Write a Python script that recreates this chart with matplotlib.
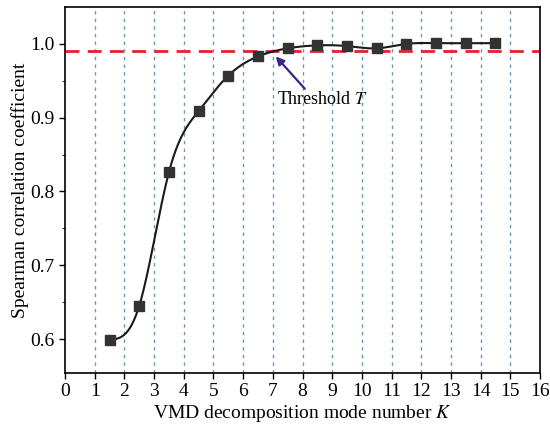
import numpy as np
import matplotlib
matplotlib.use("Agg")
import matplotlib.pyplot as plt

K = [1.5, 2.5, 3.5, 4.5, 5.5, 6.5, 7.5, 8.5, 9.5, 10.5, 11.5, 12.5, 13.5, 14.5]
rho = [0.599, 0.645, 0.826, 0.909, 0.957, 0.983, 0.994, 0.998, 0.997, 0.994, 1.000, 1.001, 1.001, 1.001]
threshold = 0.99
xticks = list(range(0, 17))
yticks = [0.6, 0.7, 0.8, 0.9, 1.0]
grid_x = list(range(1, 16))


def natural_spline(x, y, xs):
    x = np.asarray(x, float); y = np.asarray(y, float)
    n = len(x)
    h = np.diff(x)
    A = np.zeros((n, n)); b = np.zeros(n)
    A[0, 0] = 1; A[-1, -1] = 1
    for i in range(1, n - 1):
        A[i, i - 1] = h[i - 1]
        A[i, i] = 2 * (h[i - 1] + h[i])
        A[i, i + 1] = h[i]
        b[i] = 3 * ((y[i + 1] - y[i]) / h[i] - (y[i] - y[i - 1]) / h[i - 1])
    c = np.linalg.solve(A, b)
    out = np.empty_like(xs)
    for j, xv in enumerate(xs):
        i = min(max(np.searchsorted(x, xv) - 1, 0), n - 2)
        dx = xv - x[i]
        bi = (y[i + 1] - y[i]) / h[i] - h[i] * (2 * c[i] + c[i + 1]) / 3
        di = (c[i + 1] - c[i]) / (3 * h[i])
        out[j] = y[i] + bi * dx + c[i] * dx ** 2 + di * dx ** 3
    return out


plt.rcParams['font.family'] = ['Liberation Serif', 'DejaVu Serif']
plt.rcParams['mathtext.fontset'] = 'stix'

fig = plt.figure(figsize=(5.5, 4.25), dpi=100)
ax = fig.add_axes([65 / 550, 52 / 425, 475 / 550, 366 / 425])

for gx in grid_x:
    ax.axvline(gx, color='#6a9aba', lw=1.0, ls=(0, (2.5, 3)), zorder=1)

ax.axhline(threshold, color='#e8202a', lw=2.0, ls=(0, (5, 3)), zorder=2)

xs = np.linspace(K[0], K[-1], 400)
ax.plot(xs, natural_spline(K, rho, xs), color='#1a1a1a', lw=1.5, zorder=3)
ax.plot(K, rho, ls='none', marker='s', ms=6.5, color='#333333', zorder=4)

ax.annotate('Threshold $T$', xy=(7.1, 0.983), xytext=(7.15, 0.924),
            fontsize=13, va='center', ha='left',
            arrowprops=dict(arrowstyle='-|>', color='#3b2390', lw=1.6,
                            shrinkA=0, shrinkB=0, mutation_scale=12,
                            relpos=(0.33, 1.0)))

ax.set_xlim(0, 16)
ax.set_ylim(0.554, 1.05)
ax.set_xticks(xticks)
ax.set_yticks(yticks)
ax.set_yticklabels([f'{v:.1f}' for v in yticks])
ax.set_yticks([0.65, 0.75, 0.85, 0.95], minor=True)
ax.tick_params(axis='both', labelsize=14, direction='out', length=4, width=1)
ax.tick_params(axis='y', which='minor', length=2.5, direction='out')
for s in ax.spines.values():
    s.set_linewidth(1.2)

ax.set_xlabel('VMD decomposition mode number $K$', fontsize=14, labelpad=2)
ax.set_ylabel('Spearman correlation coefficient', fontsize=14, labelpad=1)

fig.savefig('out.png', dpi=100)
